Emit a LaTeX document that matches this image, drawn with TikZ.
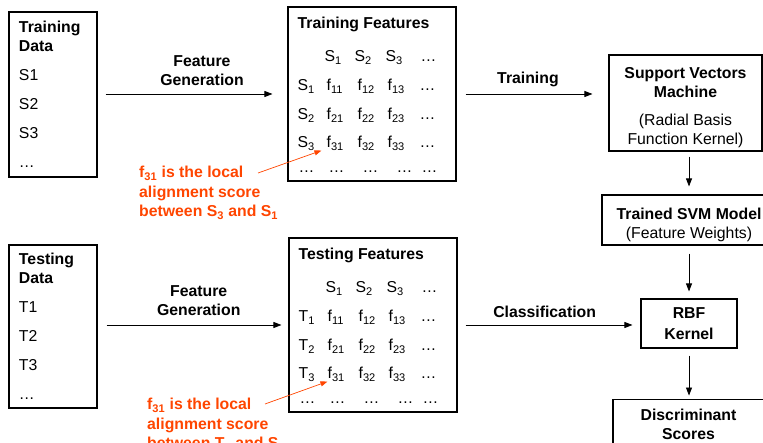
\documentclass[tikz,border=0pt]{standalone}
\usepackage{fontspec}
\setmainfont{Liberation Sans}
\usetikzlibrary{arrows.meta,positioning}
\definecolor{notered}{RGB}{255,69,0}
\newcommand\sz{\fontsize{15.8}{19}\selectfont}

\begin{document}
\begin{tikzpicture}[x=1pt,y=-1pt,
  font=\sz,
  box/.style={draw,line width=1.1pt,inner sep=0pt,align=center},
  databox/.style={box,minimum width=88pt,text width=68pt,align=left},
  cell/.style={anchor=base west,inner sep=0pt},
  lbl/.style={font=\sz\bfseries,align=center,inner sep=0pt},
  arr/.style={-{Triangle[length=8pt,width=6pt]},line width=0.8pt},
  note/.style={font=\fontsize{15.8}{19.5}\selectfont\bfseries,text=notered,align=left,anchor=north west,inner sep=0pt},
  notearr/.style={-{Triangle[length=7pt,width=5pt]},color=notered,line width=0.7pt}]
\useasboundingbox (0,0) rectangle (763,443);
\clip (0,0) rectangle (763,443);

% data columns
\node[databox,minimum height=165pt] (trd) at (53,94.5)
  {\textbf{Training\\Data}\\[10pt]S1\\[10pt]S2\\[10pt]S3\\[10pt]…};
\node[databox,minimum height=163pt] (ted) at (53,326.5)
  {\textbf{Testing\\Data}\\[10pt]T1\\[10pt]T2\\[10pt]T3\\[10pt]…};

% feature tables
\node[box,minimum width=168pt,minimum height=174pt] (trf) at (372,94) {};
\node[box,minimum width=168pt,minimum height=174pt] (tef) at (373,325) {};
\foreach \tb/\ttl/\rl in {trf/Training/S,tef/Testing/T}{
  \begin{scope}[shift={(\tb.north west)}]
    \node[cell,font=\sz\bfseries] (\tb-ttl) at (10,22) {\ttl\ Features};
    \foreach \j/\x in {1/37,2/67,3/98}
      \node[cell] (\tb-h\j) at (\x,55) {S\textsubscript{\j}};
    \node[cell] (\tb-h4) at (133,55) {…};
    \foreach \i/\y in {1/84,2/113,3/141}{
      \node[cell] (\tb-r\i) at (10,\y) {\rl\textsubscript{\i}};
      \foreach \j/\x in {1/39,2/70,3/100}
        \node[cell] (\tb-\i\j) at (\x,\y) {f\textsubscript{\i\j}};
      \node[cell] (\tb-\i4) at (132,\y) {…};
    }
    \foreach \x [count=\j] in {11,41,75,109,134}
      \node[cell] (\tb-d\j) at (\x,166) {…};
  \end{scope}
}

% model side
\node[box,minimum width=153pt,minimum height=96pt] (svm) at (685.5,103)
  {\rule{0pt}{19.5pt}\textbf{Support Vectors}\\\textbf{Machine}\\[9pt](Radial Basis\\Function Kernel)};
\node[box,minimum width=174pt,minimum height=50pt] (trm) at (689,220)
  {\rule{0pt}{20.5pt}\textbf{Trained SVM Model}\\(Feature Weights)};
\node[box,minimum width=96pt,minimum height=49pt] (rbf) at (689,323.5)
  {\textbf{RBF}\\[2pt]\textbf{Kernel}};
\node[box,minimum width=151pt,inner ysep=10pt,below=50pt of rbf.south,xshift=-0.5pt] (dis)
  {\textbf{Discriminant}\\\textbf{Scores}};

% arrows
\draw[arr,shorten <=8pt,shorten >=15pt] (trf.west -| trd.east) -- (trf.west)
  node[lbl,above=8pt,pos=.55] (fg1) {Feature\\Generation};
\draw[arr,shorten <=9pt,shorten >=7pt] (tef.west -| ted.east) -- (tef.west)
  node[lbl,above=9pt,pos=.53] (fg2) {Feature\\Generation};
\draw[arr,shorten <=9pt,shorten >=16pt] (trf.east) -- (trf.east -| svm.west)
  node[lbl,above=7pt,pos=.47] (trn) {Training};
\draw[arr,shorten <=8pt,shorten >=8pt] (tef.east) -- (tef.east -| rbf.west)
  node[lbl,above=7pt,pos=.476] (cls) {Classification};
\draw[arr,shorten <=5pt,shorten >=8pt] (svm.south -| rbf) -- (trm.north -| rbf);
\draw[arr,shorten <=8pt,shorten >=7pt] (trm.south -| rbf) -- (rbf.north);
\draw[arr,shorten <=7pt,shorten >=3pt] (rbf.south) -- (dis.north -| rbf);

% notes
\node[note] (trnote) at (139,166)
  {f\textsubscript{31} is the local\\alignment score\\between S\textsubscript{3} and S\textsubscript{1}};
\node[note] (tenote) at (147,398)
  {f\textsubscript{31} is the local\\alignment score\\between T\textsubscript{3} and S\textsubscript{1}};
\coordinate (trnote-a) at (258,173);
\coordinate (tenote-a) at (265,404);
\draw[notearr] (trnote-a) -- ([xshift=-5pt]trf-31.south west);
\draw[notearr] (tenote-a) -- (tef-31.south west);
\end{tikzpicture}
\end{document}
